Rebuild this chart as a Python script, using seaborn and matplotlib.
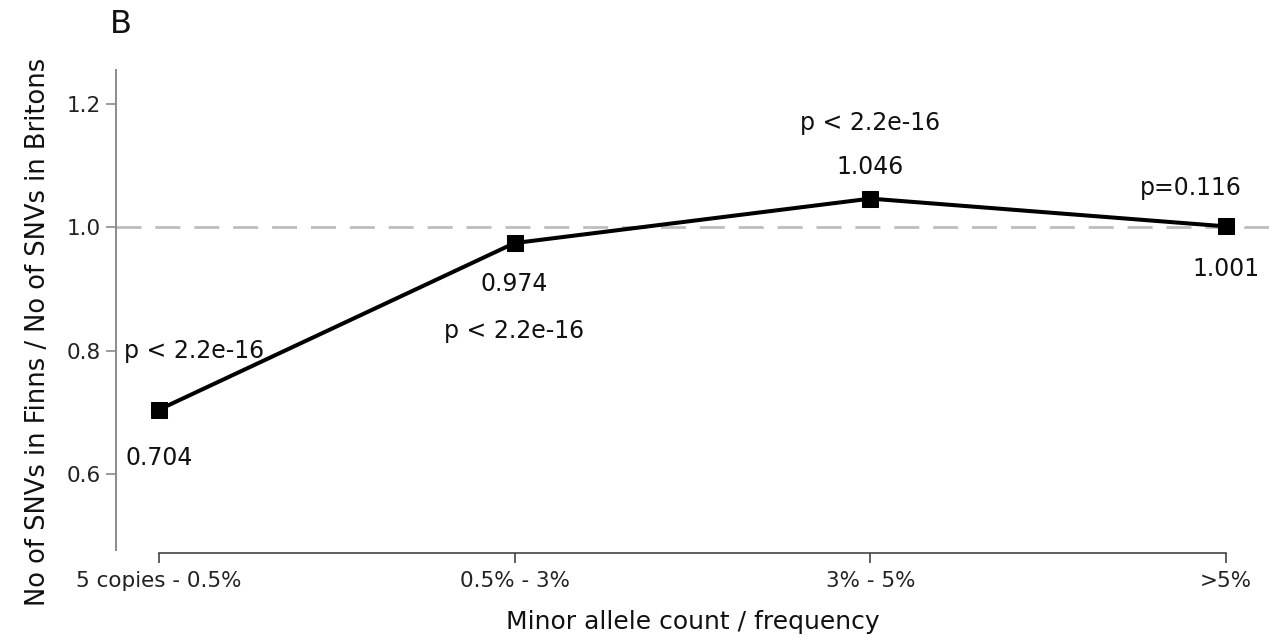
import matplotlib
matplotlib.use("Agg")
import matplotlib.pyplot as plt
import seaborn as sns
import pandas as pd
import numpy as np

categories = ["5 copies - 0.5%", "0.5% - 3%", "3% - 5%", ">5%"]
ratios = [0.704, 0.974, 1.046, 1.001]
value_labels = ["0.704", "0.974", "1.046", "1.001"]
p_labels = ["p < 2.2e-16", "p < 2.2e-16", "p < 2.2e-16", "p=0.116"]
y_ticks = [0.6, 0.8, 1.0, 1.2]

# annotation placement (data coords)
value_label_pos = [(0.0, 0.626), (1.0, 0.908), (2.0, 1.097), (3.0, 0.932)]
p_label_pos = [(0.10, 0.80), (1.0, 0.832), (2.0, 1.168), (2.90, 1.063)]

sns.set_theme(style="white")
plt.rcParams['font.family'] = ['DejaVu Sans']

fig = plt.figure(figsize=(12.69, 6.38), dpi=100)
ax = fig.add_axes([0.0914, 0.138, 0.9086, 0.752])

df = pd.DataFrame({"x": np.arange(len(categories)), "ratio": ratios})
ax.axhline(1.0, color="#bdbdbd", lw=2.0, dashes=(9, 5), zorder=1)
sns.lineplot(data=df, x="x", y="ratio", ax=ax, color="black", lw=2.9,
             marker="s", markersize=12, markeredgecolor="black", zorder=3)

for (x, y), t in zip(value_label_pos, value_labels):
    ax.text(x, y, t, ha="center", va="center", fontsize=17, color="#111111")
for (x, y), t in zip(p_label_pos, p_labels):
    ax.text(x, y, t, ha="center", va="center", fontsize=17, color="#111111")

ax.set_xlim(-0.12, 3.12)
ax.set_ylim(0.477, 1.254)
ax.set_xticks(range(len(categories)))
ax.set_xticklabels(categories)
ax.set_yticks(y_ticks)
ax.set_yticklabels([f"{v:.1f}" for v in y_ticks])

for s in ["top", "right"]:
    ax.spines[s].set_visible(False)
ax.spines["left"].set_color("#8a8a8a")
ax.spines["left"].set_linewidth(1.4)
ax.spines["bottom"].set_color("#444444")
ax.spines["bottom"].set_linewidth(1.2)
ax.spines["bottom"].set_bounds(0, 3)
ax.spines["bottom"].set_position(("outward", 2))

ax.tick_params(axis="y", length=7, width=1.2, color="#8a8a8a", pad=4,
               labelsize=15.5, labelcolor="#222222", left=True)
ax.tick_params(axis="x", length=7, width=1.2, color="#444444", pad=6,
               labelsize=15.5, labelcolor="#222222", bottom=True)

ax.set_xlabel("Minor allele count / frequency", fontsize=18, color="#111111", labelpad=14)
ax.set_ylabel("No of SNVs in Finns / No of SNVs in Britons", fontsize=18.5, color="#111111")
ax.yaxis.set_label_coords(-0.056, 0.454)

fig.text(0.0866, 0.962, "B", fontsize=23, ha="left", va="center", color="#111111")

fig.savefig("out.png", dpi=100)
